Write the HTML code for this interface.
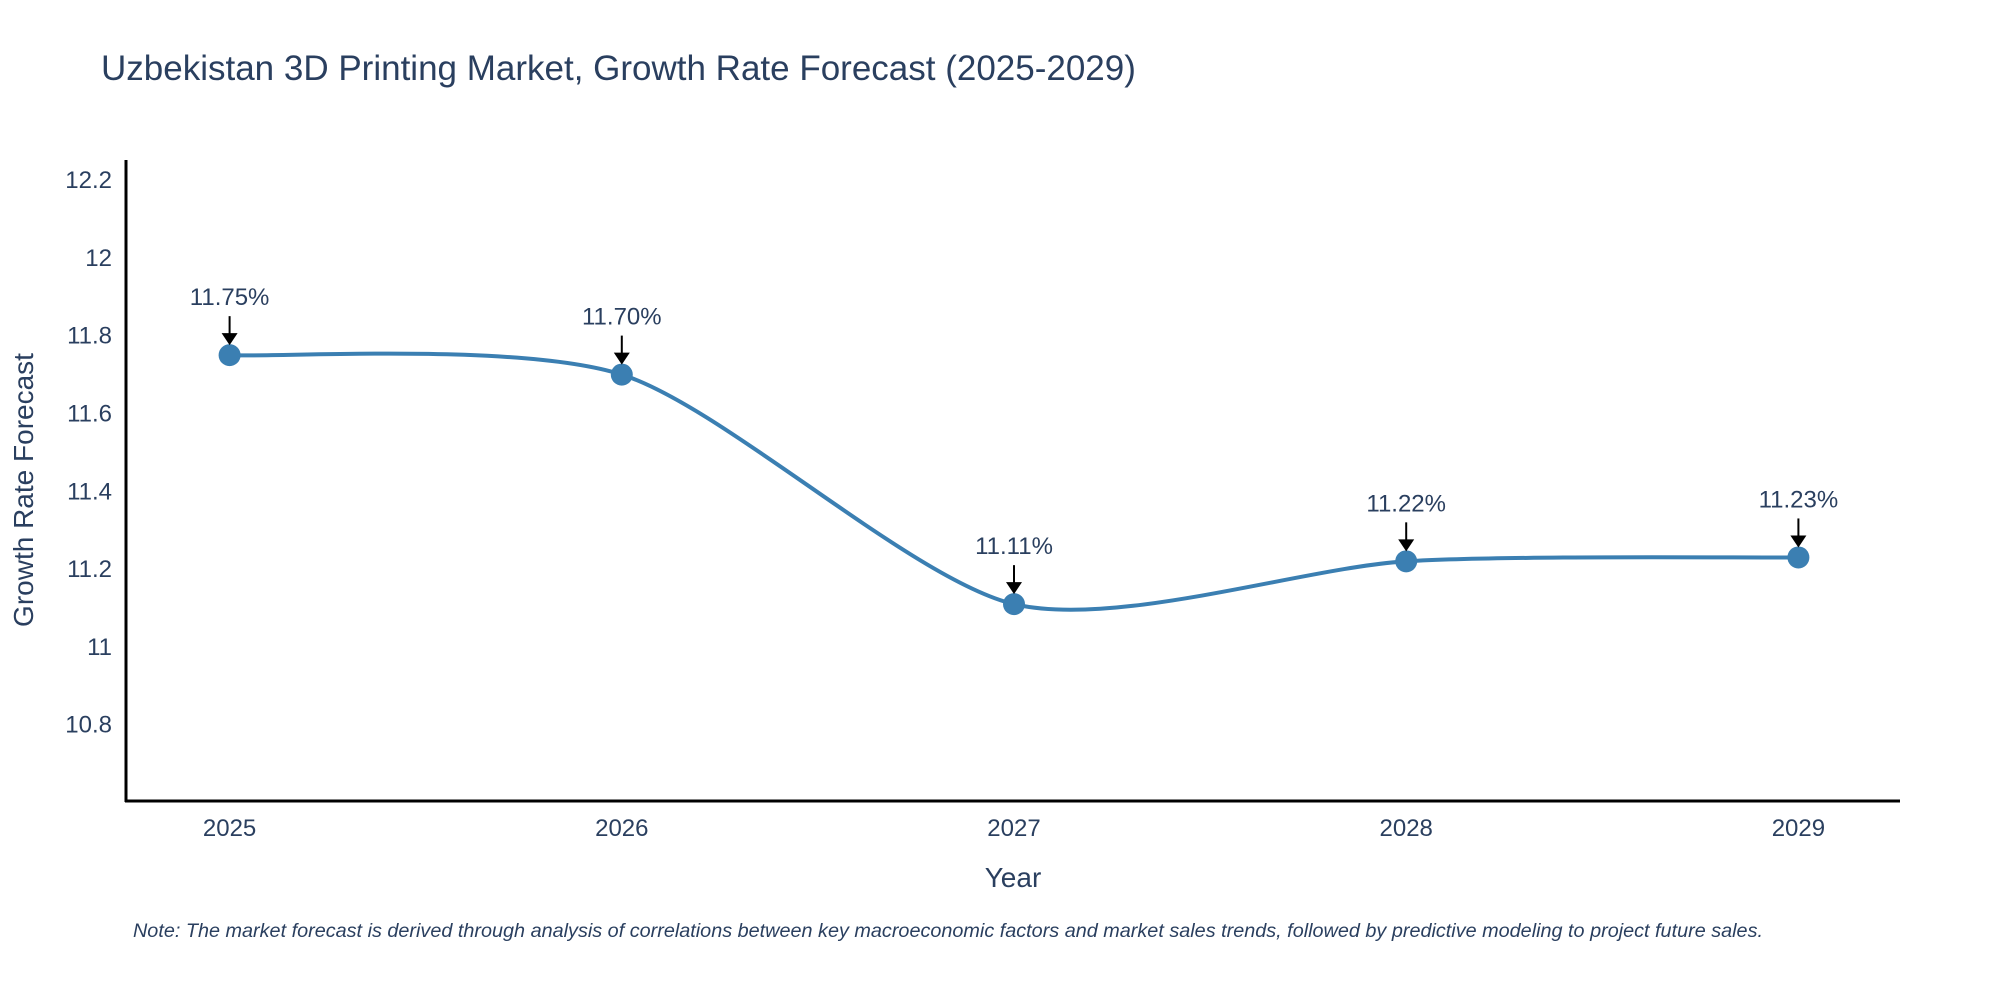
<!DOCTYPE html>
<html><head><meta charset="utf-8"><style>
html,body{margin:0;padding:0;background:#fff;}
svg{display:block;font-family:"Liberation Sans",sans-serif;}
</style></head><body>
<svg id="chart" width="2000" height="1000" viewBox="0 0 2000 1000">
<text x="101" y="80" font-size="35" fill="#2a3f5f">Uzbekistan 3D Printing Market, Growth Rate Forecast (2025-2029)</text>
<line x1="126" y1="160" x2="126" y2="802" stroke="#000" stroke-width="3"/>
<line x1="125" y1="801" x2="1900" y2="801" stroke="#000" stroke-width="3"/>
<g id="yticks"></g><g id="xticks"></g>
<text x="0" y="0" transform="translate(33,490) rotate(-90)" text-anchor="middle" font-size="28" fill="#2a3f5f">Growth Rate Forecast</text>
<text x="1013" y="887" text-anchor="middle" font-size="28" fill="#2a3f5f">Year</text>
<g id="series"></g>
<text x="133" y="937" font-size="19" font-style="italic" fill="#2a3f5f" textLength="1630" lengthAdjust="spacingAndGlyphs">Note: The market forecast is derived through analysis of correlations between key macroeconomic factors and market sales trends, followed by predictive modeling to project future sales.</text>
</svg>
<script>
const years = [2025, 2026, 2027, 2028, 2029];
const values = [11.75, 11.70, 11.11, 11.22, 11.23];
const labels = ["11.75%", "11.70%", "11.11%", "11.22%", "11.23%"];
const yTickVals = [10.8, 11, 11.2, 11.4, 11.6, 11.8, 12, 12.2];
const yTickLabels = ["10.8", "11", "11.2", "11.4", "11.6", "11.8", "12", "12.2"];

const NS = "http://www.w3.org/2000/svg";
const yMin = 10.604, yMax = 12.249, pTop = 161, pBot = 801;
const xFirst = 229.6, xStep = 392.2;
function X(yr){ return xFirst + (yr - years[0]) * xStep; }
function Y(v){ return pBot - (v - yMin) / (yMax - yMin) * (pBot - pTop); }
function mk(tag, attrs, parent){ const e = document.createElementNS(NS, tag); for (const k in attrs) e.setAttribute(k, attrs[k]); parent.appendChild(e); return e; }

const yt = document.getElementById('yticks');
yTickVals.forEach((v, i) => {
  const t = mk('text', {x: 112, y: Y(v) + 8, 'text-anchor': 'end', 'font-size': 24, fill: '#2a3f5f'}, yt);
  
  
  t.textContent = yTickLabels[i];
});
const xt = document.getElementById('xticks');
years.forEach(yr => {
  const t = mk('text', {x: X(yr), y: 836, 'text-anchor': 'middle', 'font-size': 24, fill: '#2a3f5f'}, xt);
  
  
  t.textContent = String(yr);
});

const pts = years.map((yr, i) => [X(yr), Y(values[i])]);
let d = `M${pts[0][0]},${pts[0][1]}`;
const k = 0.13;
for (let i = 0; i < pts.length - 1; i++) {
  const p0 = pts[Math.max(0, i - 1)], p1 = pts[i], p2 = pts[i + 1], p3 = pts[Math.min(pts.length - 1, i + 2)];
  const c1 = [p1[0] + (p2[0] - p0[0]) * k, p1[1] + (p2[1] - p0[1]) * k];
  const c2 = [p2[0] - (p3[0] - p1[0]) * k, p2[1] - (p3[1] - p1[1]) * k];
  d += ` C${c1[0]},${c1[1]} ${c2[0]},${c2[1]} ${p2[0]},${p2[1]}`;
}
const s = document.getElementById('series');
const line = mk('path', {d: d, fill: 'none', stroke: '#3b7fb2', 'stroke-width': 4}, s);


pts.forEach((p, i) => {
  const c = mk('circle', {cx: p[0], cy: p[1], r: 11, fill: '#3b7fb2'}, s);
  
  
  const a = mk('line', {x1: p[0], y1: p[1] - 39, x2: p[0], y2: p[1] - 20, stroke: '#000', 'stroke-width': 2}, s);
  
  
  const h = mk('polygon', {points: `${p[0]-8},${p[1]-22} ${p[0]+8},${p[1]-22} ${p[0]},${p[1]-10}`, fill: '#000'}, s);
  
  
  const t = mk('text', {x: p[0], y: p[1] - 50, 'text-anchor': 'middle', 'font-size': 24, fill: '#2a3f5f'}, s);
  
  
  t.textContent = labels[i];
});
</script>
</body></html>
